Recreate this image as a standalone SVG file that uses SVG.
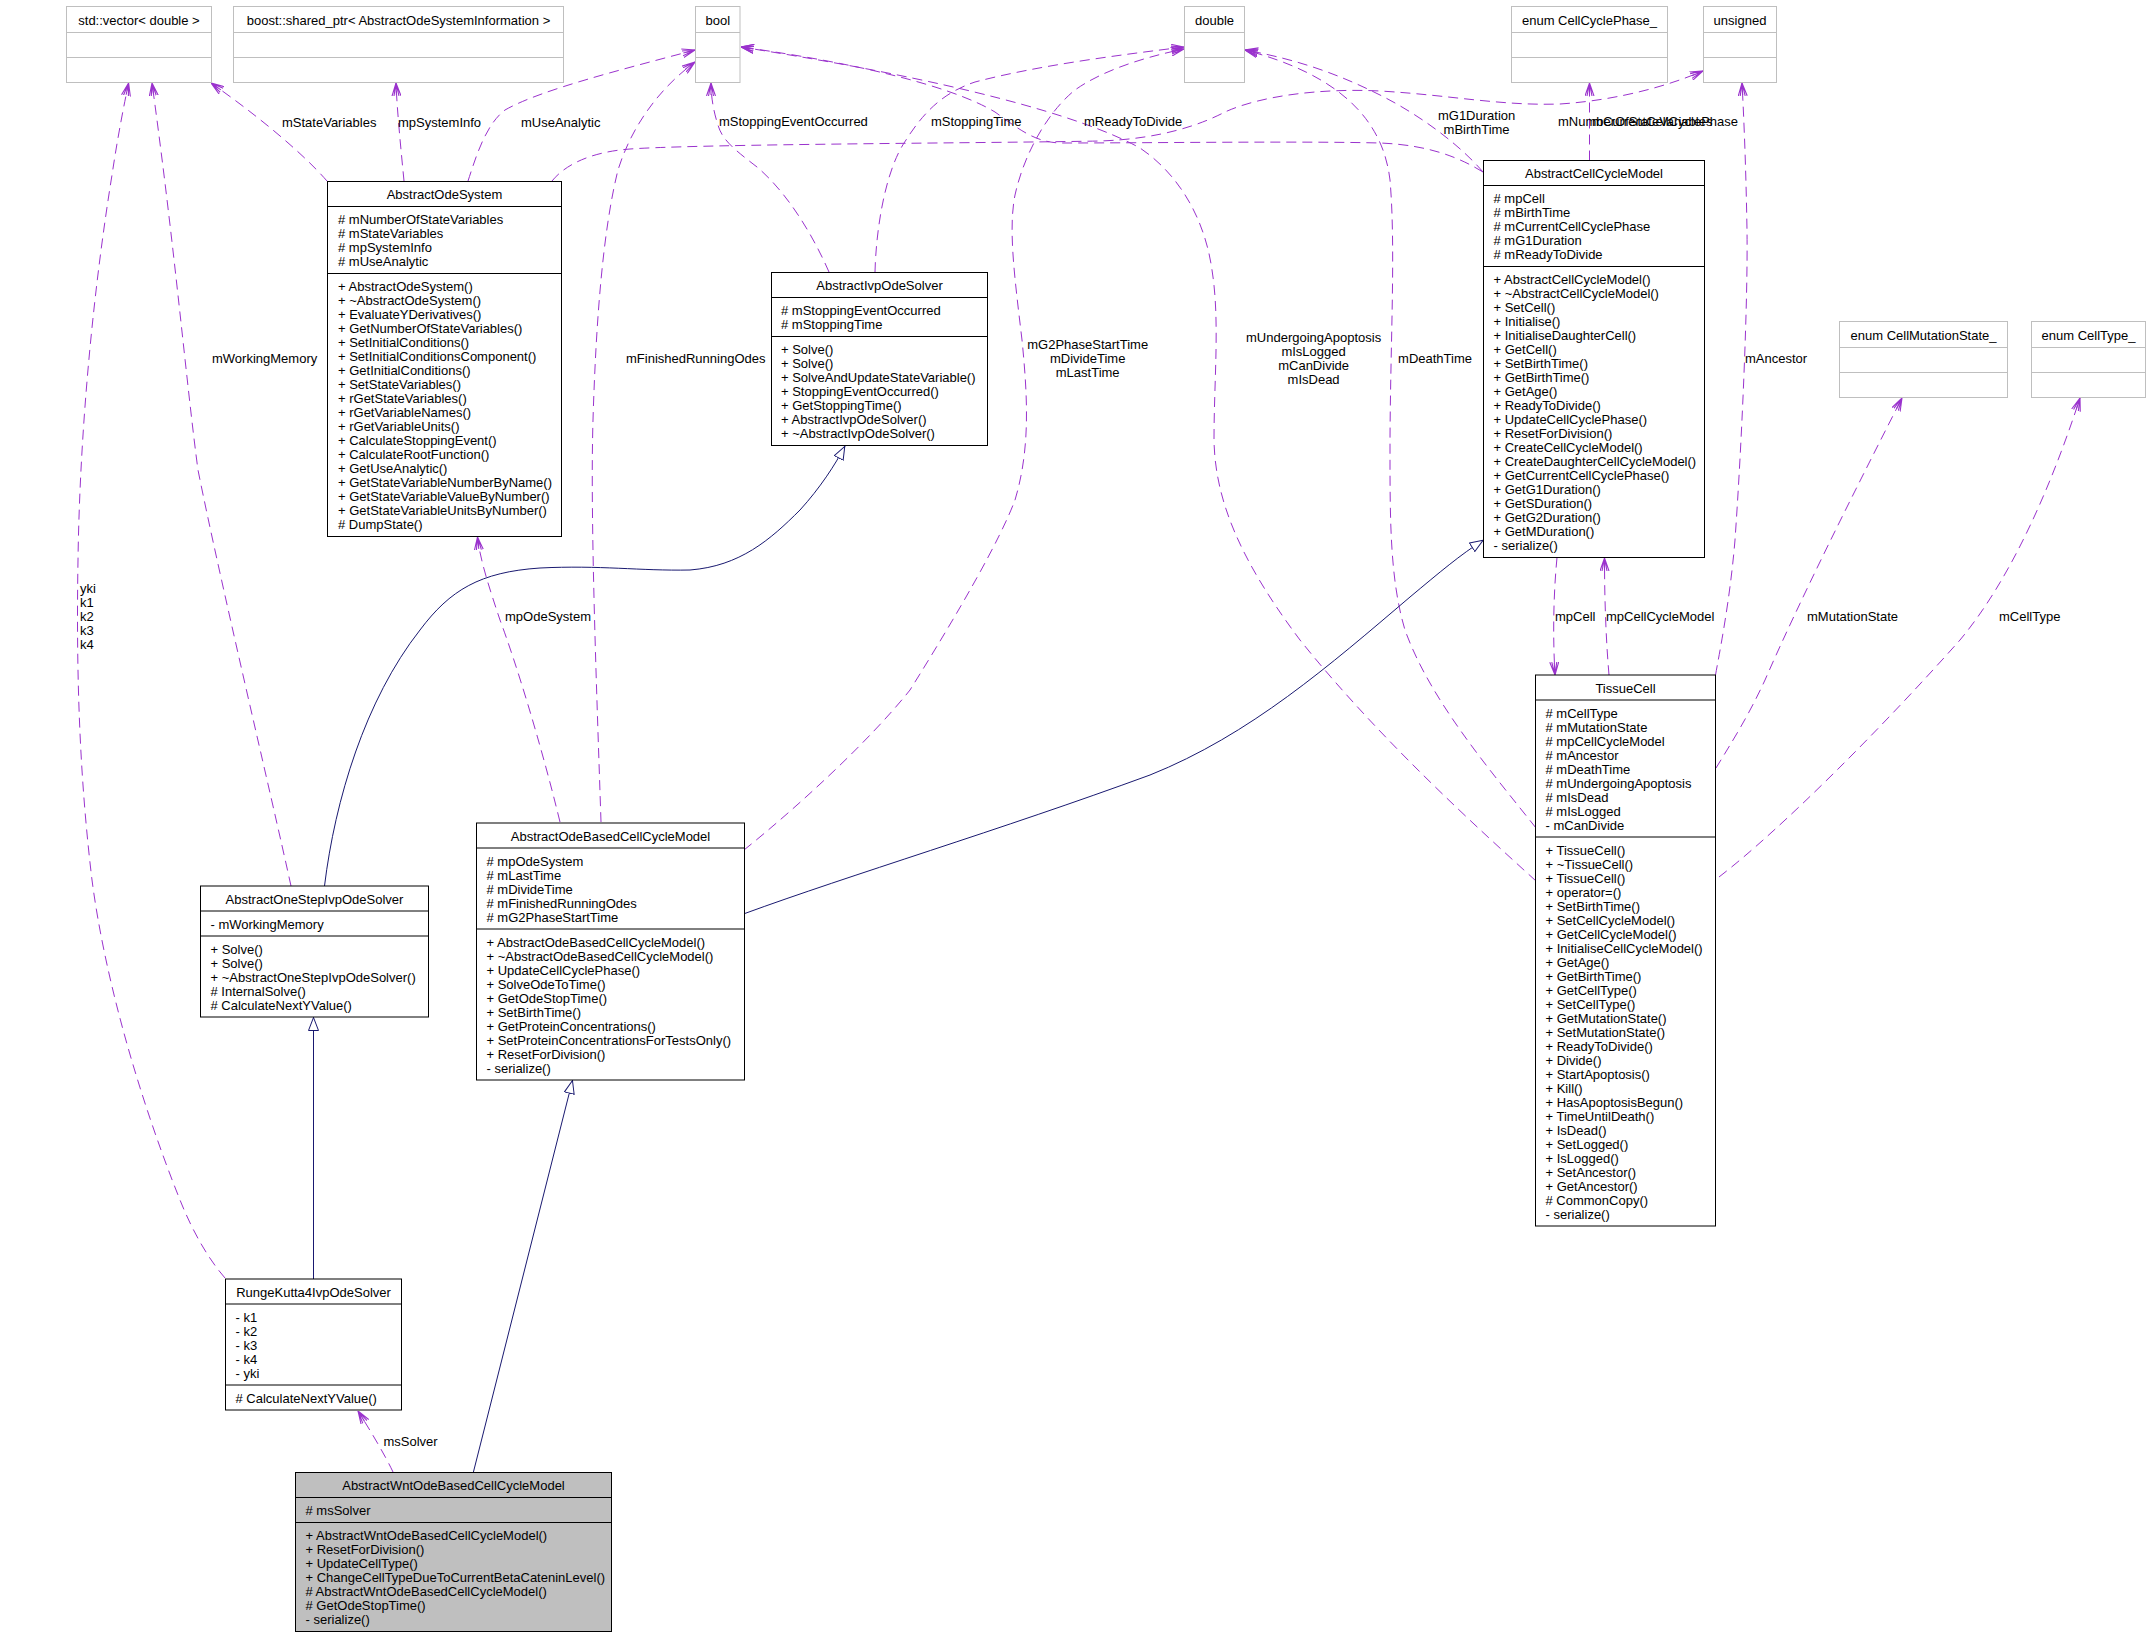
<svg xmlns="http://www.w3.org/2000/svg" width="2151" height="1637" viewBox="0 0 2151 1637">
<style>
.bg{fill:#fff}
.box{fill:#fff;stroke:#000;stroke-width:1}
.gbox{fill:#bfbfbf;stroke:#000;stroke-width:1}
.ext{fill:#fff;stroke:#bfbfbf;stroke-width:1}
.sep{stroke:#000;stroke-width:1}
.esep{stroke:#bfbfbf;stroke-width:1}
text{font-family:"Liberation Sans",Arial,Helvetica,sans-serif;font-size:13px;fill:#000}
.c{text-anchor:middle}
.e{text-anchor:end}
.use{fill:none;stroke:#9a32cd;stroke-width:1;stroke-dasharray:10,6;marker-end:url(#arrUse)}
.inh{fill:none;stroke:#191970;stroke-width:1;marker-end:url(#arrInh)}
</style>
<defs>
<marker id="arrUse" viewBox="0 0 13 10" refX="13" refY="5" markerWidth="13" markerHeight="10" markerUnits="userSpaceOnUse" orient="auto">
<path d="M0,0.5 L13,5 L0,9.5 M0,2.5 L13,5 L0,7.5 M1,5 L13,5" fill="none" stroke="#9a32cd" stroke-width="1.1"/>
</marker>
<marker id="arrInh" viewBox="0 0 14 11" refX="14" refY="5.5" markerWidth="14" markerHeight="11" markerUnits="userSpaceOnUse" orient="auto">
<path d="M0.5,0.5 L13.5,5.5 L0.5,10.5 Z" fill="#fff" stroke="#191970" stroke-width="1"/>
</marker>
</defs>
<rect class="bg" x="0" y="0" width="2151" height="1637"/>

<g id="connectors">
<path class="use" d="M327,181 C300,150 250,110 211,83"/>
<path class="use" d="M404,181 C401,150 397,110 396,83"/>
<path class="use" d="M468,181 C475,160 485,125 505,110 C540,90 620,70 695,50"/>
<path class="use" d="M829,272 C815,240 790,195 757,167 C735,150 722,140 718,125 C713,110 711,95 711,83"/>
<path class="use" d="M875,272 C876,230 885,170 906,140 C925,110 945,92 975,82 C1040,65 1120,55 1184,47"/>
<path class="use" d="M744,850 C800,805 870,740 910,690 C960,610 1000,540 1015,500 C1030,450 1028,400 1022,340 C1015,280 1008,230 1015,195 C1025,150 1050,110 1075,90 C1100,72 1140,58 1184,49"/>
<path class="use" d="M601,822 C597,700 590,520 593,420 C596,320 603,230 618,170 C632,125 660,88 695,62"/>
<path class="use" d="M560,822 C540,740 515,660 500,620 C490,590 480,560 477.5,537"/>
<path class="use" d="M291,886 C270,790 220,580 198,470 C186,380 175,250 152,83"/>
<path class="use" d="M225,1278 C205,1255 190,1225 180,1200 C140,1100 105,980 92,880 C80,780 76,680 78,560 C80,420 95,280 112,175 C118,135 124,105 128.6,83"/>
<path class="use" d="M393,1472 C385,1455 370,1430 358,1411"/>
<path class="use" d="M552,181 C565,165 590,152 630,149 C700,144 1000,143 1100,141 C1160,139 1200,125 1225,112 C1260,96 1320,88 1380,91 C1450,95 1500,106 1560,104 C1620,100 1670,85 1703,71"/>
<path class="use" d="M1483,172 C1460,158 1430,145 1380,143 C1300,141 1150,143 1060,143 C1035,142 1020,130 995,112 C950,85 850,62 741,47"/>
<path class="use" d="M1536,881 C1480,830 1380,740 1300,640 C1240,560 1215,500 1214,440 C1214,380 1220,320 1212,270 C1205,220 1180,175 1140,148 C1080,115 950,80 741,47"/>
<path class="use" d="M1536,828 C1490,770 1430,700 1405,630 C1390,580 1390,520 1390,450 C1390,350 1396,250 1390,180 C1383,120 1340,75 1245,50"/>
<path class="use" d="M1483,172 C1460,145 1420,115 1380,95 C1340,75 1300,60 1245,50"/>
<path class="use" d="M1589.5,160.5 L1589.5,83"/>
<path class="use" d="M1715.5,675 C1720,650 1730,600 1735,540 C1742,440 1748,300 1747,230 C1746,170 1744,120 1742,83"/>
<path class="use" d="M1557,557.5 C1553,600 1553,640 1555,675"/>
<path class="use" d="M1609,675 C1606,640 1604.5,600 1604.5,558"/>
<path class="use" d="M1716,768 C1730,745 1748,717 1765,680 C1800,600 1850,500 1902,398"/>
<path class="use" d="M1719,877 C1780,830 1880,730 1960,640 C2010,580 2050,490 2080,398"/>
<path class="inh" d="M324.5,886 C335,800 365,700 420,630 C450,590 480,572 540,568 C600,565 640,571 690,570 C740,566 770,540 800,510 C820,488 835,465 845,446"/>
<path class="inh" d="M313.5,1279 L313.5,1017"/>
<path class="inh" d="M473.3,1472.5 L572.6,1080"/>
<path class="inh" d="M744.5,913.6 C850,875 1000,830 1150,775 C1250,735 1330,665 1410,597 C1440,572 1460,555 1483.5,540"/>
</g>

<g id="edge-labels">
<text x="282" y="126.5">mStateVariables</text>
<text x="398" y="126.5">mpSystemInfo</text>
<text x="521" y="126.5">mUseAnalytic</text>
<text x="719" y="126.4">mStoppingEventOccurred</text>
<text x="931" y="126.4">mStoppingTime</text>
<text x="1084" y="126.4">mReadyToDivide</text>
<text class="c" x="1476.6" y="119.5">mG1Duration</text>
<text class="c" x="1476.6" y="133.5">mBirthTime</text>
<text x="1558" y="126.4">mNumberOfStateVariables</text>
<text class="e" x="1738" y="126.4">mCurrentCellCyclePhase</text>
<text x="212" y="363.3">mWorkingMemory</text>
<text x="626" y="363.3">mFinishedRunningOdes</text>
<text class="c" x="1087.7" y="349">mG2PhaseStartTime</text>
<text class="c" x="1087.7" y="363">mDivideTime</text>
<text class="c" x="1087.7" y="377">mLastTime</text>
<text class="c" x="1313.6" y="342.4">mUndergoingApoptosis</text>
<text class="c" x="1313.6" y="356.4">mIsLogged</text>
<text class="c" x="1313.6" y="370.4">mCanDivide</text>
<text class="c" x="1313.6" y="384.4">mIsDead</text>
<text class="e" x="1472" y="363.3">mDeathTime</text>
<text x="1745" y="363.3">mAncestor</text>
<text x="80" y="593.4">yki</text>
<text x="80" y="607.4">k1</text>
<text x="80" y="621.4">k2</text>
<text x="80" y="635.4">k3</text>
<text x="80" y="649.4">k4</text>
<text x="505" y="621.4">mpOdeSystem</text>
<text x="1555" y="620.7">mpCell</text>
<text x="1606" y="620.7">mpCellCycleModel</text>
<text x="1807" y="620.7">mMutationState</text>
<text x="1999" y="620.7">mCellType</text>
<text x="383.5" y="1446.4">msSolver</text>
</g>

<g id="node-std-vector">
<rect class="ext" x="66.5" y="6.5" width="145" height="76"/>
<line class="esep" x1="66.5" y1="32.5" x2="211.5" y2="32.5"/>
<line class="esep" x1="66.5" y1="57.5" x2="211.5" y2="57.5"/>
<text class="c" x="139" y="25">std::vector&lt; double &gt;</text>
</g>
<g id="node-boost-shared-ptr">
<rect class="ext" x="233.5" y="6.5" width="330" height="76"/>
<line class="esep" x1="233.5" y1="32.5" x2="563.5" y2="32.5"/>
<line class="esep" x1="233.5" y1="57.5" x2="563.5" y2="57.5"/>
<text class="c" x="398.5" y="25">boost::shared_ptr&lt; AbstractOdeSystemInformation &gt;</text>
</g>
<g id="node-bool">
<rect class="ext" x="695.5" y="6.5" width="44.5" height="76"/>
<line class="esep" x1="695.5" y1="32.5" x2="740" y2="32.5"/>
<line class="esep" x1="695.5" y1="57.5" x2="740" y2="57.5"/>
<text class="c" x="717.8" y="25">bool</text>
</g>
<g id="node-double">
<rect class="ext" x="1184.5" y="6.5" width="60" height="76"/>
<line class="esep" x1="1184.5" y1="32.5" x2="1244.5" y2="32.5"/>
<line class="esep" x1="1184.5" y1="57.5" x2="1244.5" y2="57.5"/>
<text class="c" x="1214.5" y="25">double</text>
</g>
<g id="node-enum-CellCyclePhase">
<rect class="ext" x="1511.5" y="6.5" width="156" height="76"/>
<line class="esep" x1="1511.5" y1="32.5" x2="1667.5" y2="32.5"/>
<line class="esep" x1="1511.5" y1="57.5" x2="1667.5" y2="57.5"/>
<text class="c" x="1589.5" y="25">enum CellCyclePhase_</text>
</g>
<g id="node-unsigned">
<rect class="ext" x="1703.5" y="6.5" width="73" height="76"/>
<line class="esep" x1="1703.5" y1="32.5" x2="1776.5" y2="32.5"/>
<line class="esep" x1="1703.5" y1="57.5" x2="1776.5" y2="57.5"/>
<text class="c" x="1740" y="25">unsigned</text>
</g>
<g id="node-enum-CellMutationState">
<rect class="ext" x="1839.5" y="321.5" width="168" height="76"/>
<line class="esep" x1="1839.5" y1="347.5" x2="2007.5" y2="347.5"/>
<line class="esep" x1="1839.5" y1="372.5" x2="2007.5" y2="372.5"/>
<text class="c" x="1923.5" y="340">enum CellMutationState_</text>
</g>
<g id="node-enum-CellType">
<rect class="ext" x="2031.5" y="321.5" width="114" height="76"/>
<line class="esep" x1="2031.5" y1="347.5" x2="2145.5" y2="347.5"/>
<line class="esep" x1="2031.5" y1="372.5" x2="2145.5" y2="372.5"/>
<text class="c" x="2088.5" y="340">enum CellType_</text>
</g>

<g id="node-AbstractOdeSystem">
<rect class="box" x="327.5" y="181.5" width="234" height="355"/>
<line class="sep" x1="327.5" y1="206.5" x2="561.5" y2="206.5"/>
<line class="sep" x1="327.5" y1="273.5" x2="561.5" y2="273.5"/>
<text class="c" x="444.5" y="199.3">AbstractOdeSystem</text>
<text x="338" y="224.4"><tspan x="338" dy="0"># mNumberOfStateVariables</tspan><tspan x="338" dy="14"># mStateVariables</tspan><tspan x="338" dy="14"># mpSystemInfo</tspan><tspan x="338" dy="14"># mUseAnalytic</tspan></text>
<text x="338" y="291.4"><tspan x="338" dy="0">+ AbstractOdeSystem()</tspan><tspan x="338" dy="14">+ ~AbstractOdeSystem()</tspan><tspan x="338" dy="14">+ EvaluateYDerivatives()</tspan><tspan x="338" dy="14">+ GetNumberOfStateVariables()</tspan><tspan x="338" dy="14">+ SetInitialConditions()</tspan><tspan x="338" dy="14">+ SetInitialConditionsComponent()</tspan><tspan x="338" dy="14">+ GetInitialConditions()</tspan><tspan x="338" dy="14">+ SetStateVariables()</tspan><tspan x="338" dy="14">+ rGetStateVariables()</tspan><tspan x="338" dy="14">+ rGetVariableNames()</tspan><tspan x="338" dy="14">+ rGetVariableUnits()</tspan><tspan x="338" dy="14">+ CalculateStoppingEvent()</tspan><tspan x="338" dy="14">+ CalculateRootFunction()</tspan><tspan x="338" dy="14">+ GetUseAnalytic()</tspan><tspan x="338" dy="14">+ GetStateVariableNumberByName()</tspan><tspan x="338" dy="14">+ GetStateVariableValueByNumber()</tspan><tspan x="338" dy="14">+ GetStateVariableUnitsByNumber()</tspan><tspan x="338" dy="14"># DumpState()</tspan></text>
</g>

<g id="node-AbstractIvpOdeSolver">
<rect class="box" x="771.5" y="272.5" width="216" height="173"/>
<line class="sep" x1="771.5" y1="297.5" x2="987.5" y2="297.5"/>
<line class="sep" x1="771.5" y1="336.5" x2="987.5" y2="336.5"/>
<text class="c" x="879.5" y="290.3">AbstractIvpOdeSolver</text>
<text x="781" y="315.4"><tspan x="781" dy="0"># mStoppingEventOccurred</tspan><tspan x="781" dy="14"># mStoppingTime</tspan></text>
<text x="781" y="354.4"><tspan x="781" dy="0">+ Solve()</tspan><tspan x="781" dy="14">+ Solve()</tspan><tspan x="781" dy="14">+ SolveAndUpdateStateVariable()</tspan><tspan x="781" dy="14">+ StoppingEventOccurred()</tspan><tspan x="781" dy="14">+ GetStoppingTime()</tspan><tspan x="781" dy="14">+ AbstractIvpOdeSolver()</tspan><tspan x="781" dy="14">+ ~AbstractIvpOdeSolver()</tspan></text>
</g>

<g id="node-AbstractCellCycleModel">
<rect class="box" x="1483.5" y="160.5" width="221" height="397"/>
<line class="sep" x1="1483.5" y1="185.5" x2="1704.5" y2="185.5"/>
<line class="sep" x1="1483.5" y1="266.5" x2="1704.5" y2="266.5"/>
<text class="c" x="1594" y="178.3">AbstractCellCycleModel</text>
<text x="1493.5" y="203.4"><tspan x="1493.5" dy="0"># mpCell</tspan><tspan x="1493.5" dy="14"># mBirthTime</tspan><tspan x="1493.5" dy="14"># mCurrentCellCyclePhase</tspan><tspan x="1493.5" dy="14"># mG1Duration</tspan><tspan x="1493.5" dy="14"># mReadyToDivide</tspan></text>
<text x="1493.5" y="284.4"><tspan x="1493.5" dy="0">+ AbstractCellCycleModel()</tspan><tspan x="1493.5" dy="14">+ ~AbstractCellCycleModel()</tspan><tspan x="1493.5" dy="14">+ SetCell()</tspan><tspan x="1493.5" dy="14">+ Initialise()</tspan><tspan x="1493.5" dy="14">+ InitialiseDaughterCell()</tspan><tspan x="1493.5" dy="14">+ GetCell()</tspan><tspan x="1493.5" dy="14">+ SetBirthTime()</tspan><tspan x="1493.5" dy="14">+ GetBirthTime()</tspan><tspan x="1493.5" dy="14">+ GetAge()</tspan><tspan x="1493.5" dy="14">+ ReadyToDivide()</tspan><tspan x="1493.5" dy="14">+ UpdateCellCyclePhase()</tspan><tspan x="1493.5" dy="14">+ ResetForDivision()</tspan><tspan x="1493.5" dy="14">+ CreateCellCycleModel()</tspan><tspan x="1493.5" dy="14">+ CreateDaughterCellCycleModel()</tspan><tspan x="1493.5" dy="14">+ GetCurrentCellCyclePhase()</tspan><tspan x="1493.5" dy="14">+ GetG1Duration()</tspan><tspan x="1493.5" dy="14">+ GetSDuration()</tspan><tspan x="1493.5" dy="14">+ GetG2Duration()</tspan><tspan x="1493.5" dy="14">+ GetMDuration()</tspan><tspan x="1493.5" dy="14">- serialize()</tspan></text>
</g>

<g id="node-TissueCell">
<rect class="box" x="1535.5" y="675" width="180" height="551"/>
<line class="sep" x1="1535.5" y1="700" x2="1715.5" y2="700"/>
<line class="sep" x1="1535.5" y1="837" x2="1715.5" y2="837"/>
<text class="c" x="1625.5" y="692.8">TissueCell</text>
<text x="1545.5" y="717.9"><tspan x="1545.5" dy="0"># mCellType</tspan><tspan x="1545.5" dy="14"># mMutationState</tspan><tspan x="1545.5" dy="14"># mpCellCycleModel</tspan><tspan x="1545.5" dy="14"># mAncestor</tspan><tspan x="1545.5" dy="14"># mDeathTime</tspan><tspan x="1545.5" dy="14"># mUndergoingApoptosis</tspan><tspan x="1545.5" dy="14"># mIsDead</tspan><tspan x="1545.5" dy="14"># mIsLogged</tspan><tspan x="1545.5" dy="14">- mCanDivide</tspan></text>
<text x="1545.5" y="854.9"><tspan x="1545.5" dy="0">+ TissueCell()</tspan><tspan x="1545.5" dy="14">+ ~TissueCell()</tspan><tspan x="1545.5" dy="14">+ TissueCell()</tspan><tspan x="1545.5" dy="14">+ operator=()</tspan><tspan x="1545.5" dy="14">+ SetBirthTime()</tspan><tspan x="1545.5" dy="14">+ SetCellCycleModel()</tspan><tspan x="1545.5" dy="14">+ GetCellCycleModel()</tspan><tspan x="1545.5" dy="14">+ InitialiseCellCycleModel()</tspan><tspan x="1545.5" dy="14">+ GetAge()</tspan><tspan x="1545.5" dy="14">+ GetBirthTime()</tspan><tspan x="1545.5" dy="14">+ GetCellType()</tspan><tspan x="1545.5" dy="14">+ SetCellType()</tspan><tspan x="1545.5" dy="14">+ GetMutationState()</tspan><tspan x="1545.5" dy="14">+ SetMutationState()</tspan><tspan x="1545.5" dy="14">+ ReadyToDivide()</tspan><tspan x="1545.5" dy="14">+ Divide()</tspan><tspan x="1545.5" dy="14">+ StartApoptosis()</tspan><tspan x="1545.5" dy="14">+ Kill()</tspan><tspan x="1545.5" dy="14">+ HasApoptosisBegun()</tspan><tspan x="1545.5" dy="14">+ TimeUntilDeath()</tspan><tspan x="1545.5" dy="14">+ IsDead()</tspan><tspan x="1545.5" dy="14">+ SetLogged()</tspan><tspan x="1545.5" dy="14">+ IsLogged()</tspan><tspan x="1545.5" dy="14">+ SetAncestor()</tspan><tspan x="1545.5" dy="14">+ GetAncestor()</tspan><tspan x="1545.5" dy="14"># CommonCopy()</tspan><tspan x="1545.5" dy="14">- serialize()</tspan></text>
</g>

<g id="node-AbstractOdeBasedCellCycleModel">
<rect class="box" x="476.5" y="823" width="268" height="257"/>
<line class="sep" x1="476.5" y1="848" x2="744.5" y2="848"/>
<line class="sep" x1="476.5" y1="929" x2="744.5" y2="929"/>
<text class="c" x="610.5" y="840.8">AbstractOdeBasedCellCycleModel</text>
<text x="486.5" y="865.9"><tspan x="486.5" dy="0"># mpOdeSystem</tspan><tspan x="486.5" dy="14"># mLastTime</tspan><tspan x="486.5" dy="14"># mDivideTime</tspan><tspan x="486.5" dy="14"># mFinishedRunningOdes</tspan><tspan x="486.5" dy="14"># mG2PhaseStartTime</tspan></text>
<text x="486.5" y="946.9"><tspan x="486.5" dy="0">+ AbstractOdeBasedCellCycleModel()</tspan><tspan x="486.5" dy="14">+ ~AbstractOdeBasedCellCycleModel()</tspan><tspan x="486.5" dy="14">+ UpdateCellCyclePhase()</tspan><tspan x="486.5" dy="14">+ SolveOdeToTime()</tspan><tspan x="486.5" dy="14">+ GetOdeStopTime()</tspan><tspan x="486.5" dy="14">+ SetBirthTime()</tspan><tspan x="486.5" dy="14">+ GetProteinConcentrations()</tspan><tspan x="486.5" dy="14">+ SetProteinConcentrationsForTestsOnly()</tspan><tspan x="486.5" dy="14">+ ResetForDivision()</tspan><tspan x="486.5" dy="14">- serialize()</tspan></text>
</g>

<g id="node-AbstractOneStepIvpOdeSolver">
<rect class="box" x="200.5" y="886" width="228" height="131"/>
<line class="sep" x1="200.5" y1="911" x2="428.5" y2="911"/>
<line class="sep" x1="200.5" y1="936" x2="428.5" y2="936"/>
<text class="c" x="314.5" y="903.8">AbstractOneStepIvpOdeSolver</text>
<text x="210.5" y="928.9">- mWorkingMemory</text>
<text x="210.5" y="953.9"><tspan x="210.5" dy="0">+ Solve()</tspan><tspan x="210.5" dy="14">+ Solve()</tspan><tspan x="210.5" dy="14">+ ~AbstractOneStepIvpOdeSolver()</tspan><tspan x="210.5" dy="14"># InternalSolve()</tspan><tspan x="210.5" dy="14"># CalculateNextYValue()</tspan></text>
</g>

<g id="node-RungeKutta4IvpOdeSolver">
<rect class="box" x="225.5" y="1279" width="176" height="131"/>
<line class="sep" x1="225.5" y1="1304" x2="401.5" y2="1304"/>
<line class="sep" x1="225.5" y1="1385" x2="401.5" y2="1385"/>
<text class="c" x="313.5" y="1296.8">RungeKutta4IvpOdeSolver</text>
<text x="235.5" y="1321.9"><tspan x="235.5" dy="0">- k1</tspan><tspan x="235.5" dy="14">- k2</tspan><tspan x="235.5" dy="14">- k3</tspan><tspan x="235.5" dy="14">- k4</tspan><tspan x="235.5" dy="14">- yki</tspan></text>
<text x="235.5" y="1402.9"># CalculateNextYValue()</text>
</g>

<g id="node-AbstractWntOdeBasedCellCycleModel">
<rect class="gbox" x="295.5" y="1472.5" width="316" height="159"/>
<line class="sep" x1="295.5" y1="1497.5" x2="611.5" y2="1497.5"/>
<line class="sep" x1="295.5" y1="1522.5" x2="611.5" y2="1522.5"/>
<text class="c" x="453.5" y="1490.3">AbstractWntOdeBasedCellCycleModel</text>
<text x="305.5" y="1515.4"># msSolver</text>
<text x="305.5" y="1540.4"><tspan x="305.5" dy="0">+ AbstractWntOdeBasedCellCycleModel()</tspan><tspan x="305.5" dy="14">+ ResetForDivision()</tspan><tspan x="305.5" dy="14">+ UpdateCellType()</tspan><tspan x="305.5" dy="14">+ ChangeCellTypeDueToCurrentBetaCateninLevel()</tspan><tspan x="305.5" dy="14"># AbstractWntOdeBasedCellCycleModel()</tspan><tspan x="305.5" dy="14"># GetOdeStopTime()</tspan><tspan x="305.5" dy="14">- serialize()</tspan></text>
</g>
</svg>
